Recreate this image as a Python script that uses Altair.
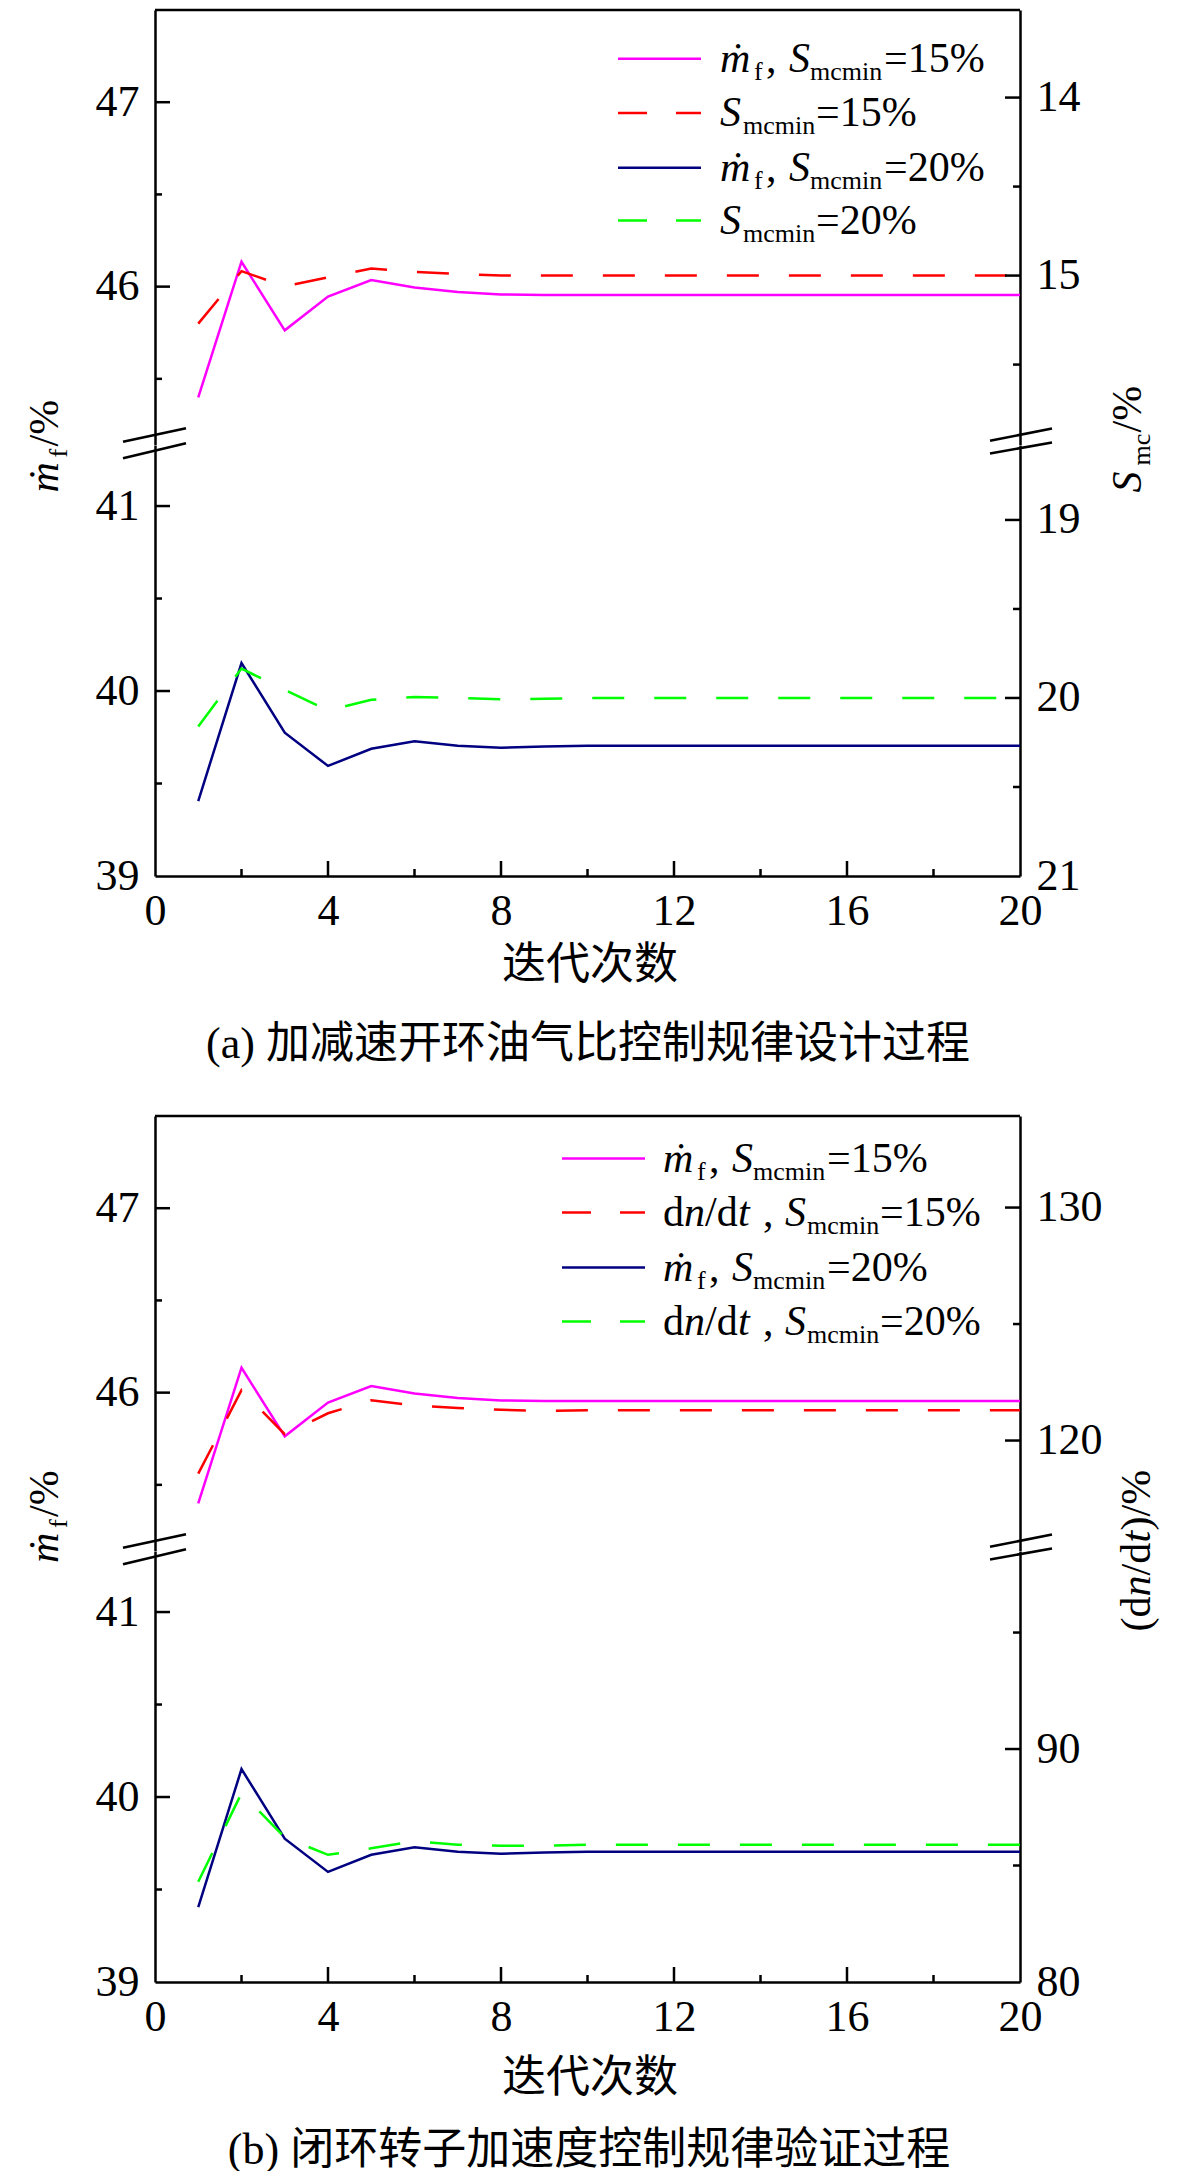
import altair as alt
import pandas as pd

# ---------------- data ----------------
iterations = list(range(1, 21))

# fuel flow (left axis, %), identical in both panels
mf_15 = [45.40, 46.135, 45.763, 45.946, 46.036, 45.995, 45.971, 45.958, 45.955, 45.955,
         45.955, 45.955, 45.955, 45.955, 45.955, 45.955, 45.955, 45.955, 45.955, 45.955]
mf_20 = [39.405, 40.151, 39.775, 39.595, 39.688, 39.728, 39.704, 39.694, 39.700, 39.704,
         39.704, 39.704, 39.704, 39.704, 39.704, 39.704, 39.704, 39.704, 39.704, 39.704]

# panel (a): surge margin S_mc (right axis, %, inverted)
smc_15 = [15.27, 14.975, 15.06, 15.01, 14.96, 14.98, 14.99, 15.0, 15.0, 15.0,
          15.0, 15.0, 15.0, 15.0, 15.0, 15.0, 15.0, 15.0, 15.0, 15.0]
smc_20 = [20.16, 19.835, 19.955, 20.07, 20.01, 19.995, 20.0, 20.007, 20.005, 20.0,
          20.0, 20.0, 20.0, 20.0, 20.0, 20.0, 20.0, 20.0, 20.0, 20.0]

# panel (b): dn/dt (right axis, %)
dndt_15 = [118.58, 122.16, 120.27, 121.17, 121.73, 121.50, 121.40, 121.32, 121.27, 121.30,
           121.30, 121.30, 121.30, 121.30, 121.30, 121.30, 121.30, 121.30, 121.30, 121.30]
dndt_20 = [84.30, 88.10, 86.21, 85.46, 85.74, 86.04, 85.89, 85.85, 85.85, 85.89,
           85.89, 85.89, 85.89, 85.89, 85.89, 85.89, 85.89, 85.89, 85.89, 85.89]

x_labels = [0, 4, 8, 12, 16, 20]
x_major = [4, 8, 12, 16]
x_minor = [2, 6, 10, 14, 18]

left_top_labels = [46, 47]
left_top_minor = [45.5, 46.5]
left_bot_labels = [39, 40, 41]
left_bot_major = [40, 41]
left_bot_minor = [39.5, 40.5]

a_right_top_labels = [14, 15]
a_right_top_minor = [14.5, 15.5]
a_right_bot_labels = [19, 20, 21]
a_right_bot_major = [19, 20]
a_right_bot_minor = [19.5, 20.5]

b_right_top_labels = [120, 130]
b_right_top_minor = [125]
b_right_bot_labels = [80, 90]
b_right_bot_major = [90]
b_right_bot_minor = [85, 95]

caption_a = "(a) 加减速开环油气比控制规律设计过程"
caption_b = "(b) 闭环转子加速度控制规律验证过程"
x_title = "迭代次数"

# ---------------- styling ----------------
W = 865
TOP_H = 434.5
BOT_H = 431
GAP_H = 239.5
FONT = "Liberation Serif, Times New Roman, DejaVu Serif, serif"
CJK = "Noto Sans CJK SC"
MAG, RED, NAVY, GREEN = "#FF00FF", "#FF0000", "#000080", "#00FF00"
DASH = [32, 30]
LW = 2.5

xscale = alt.Scale(domain=[0, 20], nice=False, zero=False)
dummy = pd.DataFrame({"k": [0]})

AXIS_STYLE = dict(format="d", title=None, labelFont=FONT, labelFontSize=44,
                  labelColor="black", ticks=False, tickSize=0, grid=False,
                  domainColor="black", domainWidth=LW, labelFlush=False,
                  labelOverlap=False)


def yaxis(orient, values):
    return alt.Axis(orient=orient, values=values, labelPadding=16, **AXIS_STYLE)


xaxis_bottom = alt.Axis(values=x_labels, labelPadding=13, **AXIS_STYLE)


def line_layer(vals, color, yscale, yax, xax, dash=None):
    df = pd.DataFrame({"x": iterations, "v": vals})
    mk = dict(color=color, strokeWidth=LW)
    if dash:
        mk["strokeDash"] = dash
    return alt.Chart(df).mark_line(**mk).encode(
        x=alt.X("x:Q", scale=xscale, axis=xax),
        y=alt.Y("v:Q", scale=yscale, axis=yax))


def ytick_layer(vals, length, side, yscale, yax):
    df = pd.DataFrame({"v": vals})
    if side == "left":
        xa, xb = alt.value(0), alt.value(length)
    else:
        xa, xb = alt.value(W - length), alt.value(W)
    return alt.Chart(df).mark_rule(color="black", strokeWidth=LW).encode(
        y=alt.Y("v:Q", scale=yscale, axis=yax), x=xa, x2=xb)


def xtick_layer(vals, length):
    df = pd.DataFrame({"x": vals})
    return alt.Chart(df).mark_rule(color="black", strokeWidth=LW).encode(
        x=alt.X("x:Q", scale=xscale, axis=xaxis_bottom),
        y=alt.value(BOT_H), y2=alt.value(BOT_H - length))


def txt(s, x, y, size, italic=False, angle=0, font=FONT, align="left",
        baseline="alphabetic"):
    mk = dict(font=font, fontSize=size, align=align, baseline=baseline, color="black")
    if italic:
        mk["fontStyle"] = "italic"
    if angle:
        mk["angle"] = angle
    return alt.Chart(dummy).mark_text(**mk).encode(
        text=alt.value(s), x=alt.value(x), y=alt.value(y))


def seg(x1, y1, x2, y2, color="black", dash=None, width=LW):
    mk = dict(color=color, strokeWidth=width)
    if dash:
        mk["strokeDash"] = dash
    return alt.Chart(dummy).mark_rule(**mk).encode(
        x=alt.value(x1), y=alt.value(y1), x2=alt.value(x2), y2=alt.value(y2))


MAIN, SUB = 42, 26


def rich_h(pieces, x0, base):
    out = []
    for s, dx, st in pieces:
        if st == "sub":
            out.append(txt(s, x0 + dx, base + 8.5, SUB))
        else:
            out.append(txt(s, x0 + dx, base, MAIN, italic=(st == "it")))
    return out


def rich_v(pieces, bx, y0):
    out = []
    for s, d, st in pieces:
        if st == "sub":
            out.append(txt(s, bx + 8.5, y0 - d, SUB, angle=270))
        else:
            out.append(txt(s, bx, y0 - d, MAIN, italic=(st == "it"), angle=270))
    return out


def mf_pieces(p):
    return [("ṁ", 0, "it"), ("f", 34, "sub"), (",", 46, "rm"), ("S", 69, "it"),
            ("mcmin", 90, "sub"), ("=" + p, 164, "rm")]


def s_pieces(p):
    return [("S", 0, "it"), ("mcmin", 23, "sub"), ("=" + p, 96, "rm")]


def dn_pieces(p):
    return [("d", 0, "rm"), ("n", 21, "it"), ("/d", 42, "rm"), ("t", 75, "it"),
            (",", 100, "rm"), ("S", 122, "it"), ("mcmin", 144, "sub"), ("=" + p, 217, "rm")]


def legend(rows, l0, l1, xt, ys):
    out = []
    for (color, dash, pieces), y in zip(rows, ys):
        out.append(seg(l0, y, l1, y, color=color, dash=dash))
        out += rich_h(pieces, xt, y + 13)
    return out


def break_marks():
    return [seg(-32, 431.8, 31, 418.2), seg(-32, 448.2, 31, 433.2),
            seg(835, 430.8, 897, 418.5), seg(835, 443.5, 897, 432.5)]


def build_panel(left_series_top, left_series_bot, right_series_top, right_series_bot,
                lt_scale, lb_scale, rt_scale, rb_scale,
                rt_labels, rt_major, rt_minor, rb_labels, rb_major, rb_minor,
                legend_layers, title_layers, caption, cap_x, xt_y):
    # ---- top segment ----
    lax_t = yaxis("left", left_top_labels)
    rax_t = yaxis("right", rt_labels)
    left_t = [line_layer(v, c, lt_scale, lax_t, None, d) for v, c, d in left_series_top]
    left_t += [ytick_layer(left_top_labels, 15, "left", lt_scale, lax_t),
               ytick_layer(left_top_minor, 7, "left", lt_scale, lax_t),
               seg(0, 0, W, 0)]
    left_t += legend_layers + title_layers + break_marks()
    right_t = [line_layer(v, c, rt_scale, rax_t, None, d) for v, c, d in right_series_top]
    right_t += [ytick_layer(rt_major, 15, "right", rt_scale, rax_t)]
    if rt_minor:
        right_t.append(ytick_layer(rt_minor, 7, "right", rt_scale, rax_t))
    top = alt.layer(alt.layer(*left_t), alt.layer(*right_t)).resolve_scale(
        y="independent").properties(width=W, height=TOP_H)

    # ---- bottom segment ----
    lax_b = yaxis("left", left_bot_labels)
    rax_b = yaxis("right", rb_labels)
    left_b = [line_layer(v, c, lb_scale, lax_b, xaxis_bottom, d) for v, c, d in left_series_bot]
    left_b += [ytick_layer(left_bot_major, 15, "left", lb_scale, lax_b),
               ytick_layer(left_bot_minor, 7, "left", lb_scale, lax_b),
               xtick_layer(x_major, 15), xtick_layer(x_minor, 7),
               txt(x_title, 435, xt_y, 44, font=CJK, align="center", baseline="middle"),
               txt(caption, cap_x, 600, 44, font="Liberation Serif, " + CJK,
                   align="center", baseline="middle")]
    right_b = [line_layer(v, c, rb_scale, rax_b, xaxis_bottom, d) for v, c, d in right_series_bot]
    right_b += [ytick_layer(rb_major, 15, "right", rb_scale, rax_b),
                ytick_layer(rb_minor, 7, "right", rb_scale, rax_b)]
    bottom = alt.layer(alt.layer(*left_b), alt.layer(*right_b)).resolve_scale(
        y="independent").properties(width=W, height=BOT_H)
    return top, bottom


lt_scale = alt.Scale(domain=[45.144, 47.5], nice=False, zero=False)
lb_scale = alt.Scale(domain=[39.0, 41.33], nice=False, zero=False)

# ---- panel (a) ----
a_rt = alt.Scale(domain=[13.508, 15.949], reverse=True, nice=False, zero=False)
a_rb = alt.Scale(domain=[18.579, 21.0], reverse=True, nice=False, zero=False)
legend_a = legend([(MAG, None, mf_pieces("15%")), (RED, [29, 29], s_pieces("15%")),
                   (NAVY, None, mf_pieces("20%")), (GREEN, [29, 29], s_pieces("20%"))],
                  463, 546, 565, [48.8, 102.9, 157.7, 210.5])
titles_a = rich_v([("ṁ", 0, "it"), ("f", 35, "sub"), ("/%", 46, "rm")], -97, 482.5) + \
    rich_v([("S", 0, "it"), ("mc", 27, "sub"), ("/%", 60, "rm")], 986, 482.5)
top_a, bottom_a = build_panel([(mf_15, MAG, None)], [(mf_20, NAVY, None)],
                              [(smc_15, RED, DASH)], [(smc_20, GREEN, DASH)],
                              lt_scale, lb_scale, a_rt, a_rb,
                              a_right_top_labels, a_right_top_labels, a_right_top_minor,
                              a_right_bot_labels, a_right_bot_major, a_right_bot_minor,
                              legend_a, titles_a, caption_a, 433, 521)

# ---- panel (b) ----
b_rt = alt.Scale(domain=[115.28, 133.93], nice=False, zero=False)
b_rb = alt.Scale(domain=[80.0, 98.5], nice=False, zero=False)
legend_b = legend([(MAG, None, mf_pieces("15%")), (RED, [29, 29], dn_pieces("15%")),
                   (NAVY, None, mf_pieces("20%")), (GREEN, [29, 29], dn_pieces("20%"))],
                  407, 490, 508, [42.5, 96.5, 151.5, 205.5])
titles_b = rich_v([("ṁ", 0, "it"), ("f", 35, "sub"), ("/%", 46, "rm")], -97, 447) + \
    rich_v([("(d", 0, "rm"), ("n", 35, "it"), ("/d", 56, "rm"), ("t", 89, "it"),
            (")/%", 101, "rm")], 995, 515.5)
top_b, bottom_b = build_panel([(mf_15, MAG, None)], [(mf_20, NAVY, None)],
                              [(dndt_15, RED, DASH)], [(dndt_20, GREEN, DASH)],
                              lt_scale, lb_scale, b_rt, b_rb,
                              b_right_top_labels, b_right_top_labels, b_right_top_minor,
                              b_right_bot_labels, b_right_bot_major, b_right_bot_minor,
                              legend_b, titles_b, caption_b, 434, 528)

# invisible spacer that keeps the gap between the two panels
spacer = alt.Chart(dummy).mark_point(opacity=0).encode(
    x=alt.value(0), y=alt.value(0)).properties(width=W, height=GAP_H)

chart = alt.vconcat(top_a, bottom_a, spacer, top_b, bottom_b,
                    spacing=0, bounds="flush").properties(
    padding={"left": 16, "top": 0, "right": 5, "bottom": 5}
).configure_view(stroke=None).configure_axis(
    grid=False, ticks=False, tickSize=0, labelFont=FONT, labelFontSize=44,
    labelColor="black", domainColor="black", domainWidth=LW, labelFlush=False,
    labelOverlap=False)

chart.save("out.html", embed_options={"renderer": "svg", "actions": False})
